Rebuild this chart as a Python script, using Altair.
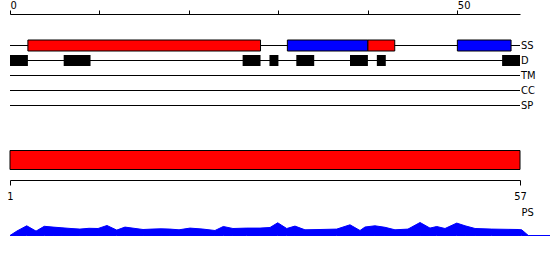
import altair as alt
import pandas as pd

FONT = "DejaVu Sans Condensed, Liberation Sans Narrow, DejaVu Sans"

# ---- data ----
seq_len = 57
top_ticks = [0, 10, 20, 30, 40, 50]
top_labels = [0, 50]
bottom_ticks = [1, 57]

rows = ["SS", "D", "TM", "CC", "SP"]

ss_start = [2, 31, 40, 50]
ss_end = [28, 40, 43, 56]
ss_type = ["helix", "strand", "helix", "strand"]

d_start = [0, 6, 26, 29, 32, 38, 41, 55]
d_end = [2, 9, 28, 30, 34, 40, 42, 57]

dom_start = [1]
dom_end = [57]

ps_pos = [0, 0.78, 1.87, 2.91, 3.83, 4.81, 5.81, 6.82, 7.82, 8.83, 9.84, 10.84,
          11.93, 12.85, 13.86, 14.87, 15.87, 16.88, 17.88, 18.89, 20.12, 21.57,
          22.91, 23.84, 24.92, 26.46, 27.94, 29.06, 29.92, 30.93, 31.85, 32.97,
          34.65, 36.52, 38.0, 39.12, 39.68, 40.79, 41.91, 43.03, 44.48, 45.83,
          46.94, 47.69, 48.62, 49.93, 50.86, 51.98, 53.84, 56.78, 57.19, 57.93,
          60.36]
ps_val = [0, 4.5, 9.7, 4.4, 9.2, 8.4, 7.7, 7.0, 6.4, 7.2, 7.0, 10.0,
          5.4, 8.4, 7.2, 6.0, 6.4, 6.7, 6.4, 5.7, 7.4, 6.4,
          5.0, 9.0, 7.0, 7.4, 7.4, 8.0, 12.7, 7.0, 9.4, 5.7,
          6.0, 6.4, 10.7, 5.0, 8.5, 9.7, 8.2, 5.7, 6.4, 13.0,
          7.4, 9.0, 7.0, 12.4, 9.7, 7.0, 6.4, 6.0, 5.7, 0.0,
          0.0]

# ---- tables ----
lines_df = pd.DataFrame({"row": rows, "start": [0] * len(rows), "end": [seq_len] * len(rows)})
ss_df = pd.DataFrame({"start": ss_start, "end": ss_end, "type": ss_type, "row": ["SS"] * len(ss_start)})
d_df = pd.DataFrame({"start": d_start, "end": d_end, "row": ["D"] * len(d_start)})
dom_df = pd.DataFrame({"start": dom_start, "end": dom_end, "row": ["dom"]})
ps_df = pd.DataFrame({"pos": ps_pos, "val": ps_val})

# ---- scales ----
def xs():
    return alt.Scale(domain=[0, seq_len], range=[10, 520], nice=False, zero=False)

def ys():
    return alt.Scale(type="band", domain=rows, range=[40, 111], paddingInner=4 / 15, paddingOuter=0)

top_axis = alt.Axis(
    orient="top", offset=-14, values=top_ticks, tickSize=4,
    labelExpr=f"indexof({top_labels}, datum.value) >= 0 ? datum.label : ''",
    labelAlign="left", labelBaseline="alphabetic", labelPadding=2,
    labelFont=FONT, labelFontSize=11, labelColor="black", labelFlush=False,
    labelOverlap=False, domainColor="black", tickColor="black", grid=False, title=None,
)

bottom_axis = alt.Axis(
    orient="bottom", offset=-80, values=bottom_ticks, tickSize=5, labelPadding=5,
    labelFont=FONT, labelFontSize=11, labelColor="black", labelFlush=False,
    labelOverlap=False, domainColor="black", tickColor="black", grid=False,
    title="PS", titleX=521, titleY=35, titleAlign="left", titleBaseline="alphabetic",
    titleFont=FONT, titleFontSize=11, titleFontWeight="normal", titleColor="black",
)

track_lines = alt.Chart(lines_df).mark_rule(color="black", strokeWidth=1).encode(
    x=alt.X("start:Q", scale=xs(), axis=top_axis),
    x2="end:Q",
    y=alt.Y("row:N", scale=ys(), axis=None),
)

track_labels = alt.Chart(lines_df).mark_text(
    align="left", baseline="middle", dx=1, dy=0.5, font=FONT, fontSize=11, color="black"
).encode(
    x=alt.X("end:Q", scale=xs(), axis=None),
    y=alt.Y("row:N", scale=ys(), axis=None),
    text="row:N",
)

ss_bars = alt.Chart(ss_df).mark_bar(stroke="black", strokeWidth=1).encode(
    x=alt.X("start:Q", scale=xs(), axis=None),
    x2="end:Q",
    y=alt.Y("row:N", scale=ys(), axis=None),
    color=alt.Color("type:N", scale=alt.Scale(domain=["helix", "strand"], range=["#ff0000", "#0000ff"]), legend=None),
)

d_bars = alt.Chart(d_df).mark_bar(color="black").encode(
    x=alt.X("start:Q", scale=xs(), axis=None),
    x2="end:Q",
    y=alt.Y("row:N", scale=ys(), axis=None),
)

dom_bar = alt.Chart(dom_df).mark_bar(color="#ff0000", stroke="black", strokeWidth=1).encode(
    x=alt.X("start:Q", scale=alt.Scale(domain=[1, seq_len], range=[10, 520], nice=False, zero=False), axis=bottom_axis),
    x2="end:Q",
    y=alt.Y("row:N", scale=alt.Scale(type="band", domain=["dom"], range=[150.5, 169.5], paddingInner=0, paddingOuter=0), axis=None),
)

ps_area = alt.Chart(ps_df).mark_area(color="#0000ff", stroke="#0000ff", strokeWidth=1, interpolate="linear").encode(
    x=alt.X("pos:Q", scale=xs(), axis=None),
    y=alt.Y("val:Q", scale=alt.Scale(domain=[0, 20], range=[235.5, 215.5], nice=False), axis=None),
)

chart = alt.layer(
    track_lines, ss_bars, d_bars, track_labels, dom_bar, ps_area
).resolve_scale(
    x="independent", y="independent", color="independent"
).resolve_axis(
    x="independent", y="independent"
).properties(
    width=550, height=260, padding=0, background="white",
    autosize=alt.AutoSizeParams(type="none"),
).configure_view(strokeWidth=0)

chart.save("out.html", embed_options={"renderer": "svg", "actions": False})
